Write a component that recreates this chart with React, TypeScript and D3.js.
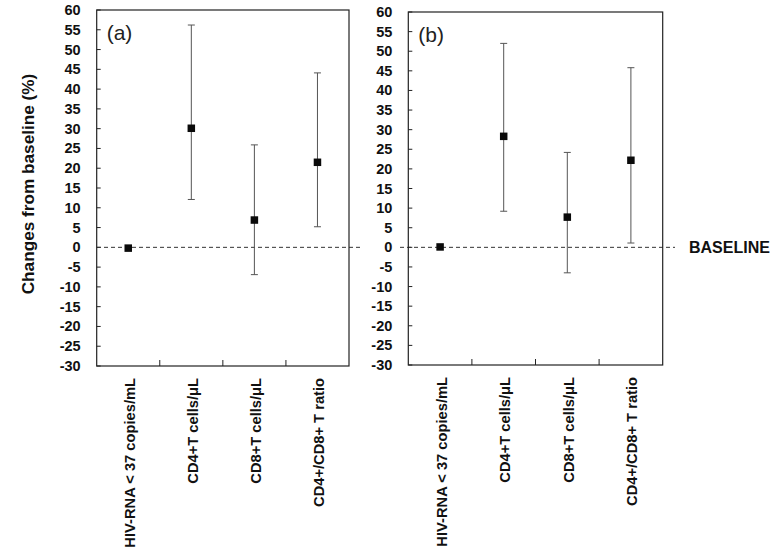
import React from "react";
import * as d3 from "d3";

const categories = ["HIV-RNA < 37 copies/mL", "CD4+T cells/\u03bcL", "CD8+T cells/\u03bcL", "CD4+/CD8+ T ratio"];
const yTicks = [60, 55, 50, 45, 40, 35, 30, 25, 20, 15, 10, 5, 0, -5, -10, -15, -20, -25, -30];

const meanA = [-0.2, 30.1, 6.9, 21.5];
const lowA: (number | null)[] = [null, 12.1, -6.9, 5.2];
const highA: (number | null)[] = [null, 56.2, 25.9, 44.1];

const meanB = [0.1, 28.3, 7.7, 22.2];
const lowB: (number | null)[] = [null, 9.2, -6.5, 1.1];
const highB: (number | null)[] = [null, 52.0, 24.2, 45.8];

const FONT = "'Liberation Sans', Arial, sans-serif";

type PanelProps = {
  label: string;
  left: number;
  right: number;
  top: number;
  bottom: number;
  mean: number[];
  low: (number | null)[];
  high: (number | null)[];
  dashFrom: number;
  dashTo: number;
};

function Panel({ label, left, right, top, bottom, mean, low, high, dashFrom, dashTo }: PanelProps) {
  const y = d3.scaleLinear().domain([-30, 60]).range([bottom, top]);
  const x = d3.scaleBand().domain(categories).range([left, right]).padding(0);
  const bw = x.bandwidth();
  const cap = 3.5;
  const ms = 7.5;
  return (
    <g>
      {/* y tick labels */}
      {yTicks.map((t) => (
        <text
          key={"yl" + t}
          x={left - 16}
          y={y(t)}
          textAnchor="end"
          dominantBaseline="central"
          fontFamily={FONT}
          fontWeight="bold"
          fontSize={14.5}
          fill="#111"
        >
          {t}
        </text>
      ))}
      {/* y ticks inside */}
      {yTicks.map((t) => (
        <line key={"yt" + t} x1={left} x2={left + 4} y1={y(t)} y2={y(t)} stroke="#222" strokeWidth={1} />
      ))}
      {/* x ticks at category boundaries */}
      {categories.slice(1).map((c) => (
        <line key={"xt" + c} x1={x(c)!} x2={x(c)!} y1={bottom} y2={bottom - 6} stroke="#222" strokeWidth={1} />
      ))}
      {/* baseline dashed */}
      <line x1={dashFrom} x2={dashTo} y1={y(0)} y2={y(0)} stroke="#333" strokeWidth={1} strokeDasharray="4,3" />
      {/* error bars */}
      {categories.map((c, i) => {
        const cx = x(c)! + bw / 2;
        const lo = low[i];
        const hi = high[i];
        if (lo === null || hi === null) return null;
        return (
          <g key={"eb" + c} stroke="#555" strokeWidth={1}>
            <line x1={cx} x2={cx} y1={y(lo)} y2={y(hi)} />
            <line x1={cx - cap} x2={cx + cap} y1={y(lo)} y2={y(lo)} />
            <line x1={cx - cap} x2={cx + cap} y1={y(hi)} y2={y(hi)} />
          </g>
        );
      })}
      {/* markers */}
      {categories.map((c, i) => {
        const cx = x(c)! + bw / 2;
        return <rect key={"m" + c} x={cx - ms / 2} y={y(mean[i]) - ms / 2} width={ms} height={ms} fill="#0a0a0a" />;
      })}
      {/* frame */}
      <rect x={left} y={top} width={right - left} height={bottom - top} fill="none" stroke="#222" strokeWidth={1.2} />
      {/* panel label */}
      <text x={left + 10} y={top + 30} fontFamily={FONT} fontSize={21} fill="#222">
        {label}
      </text>
      {/* x category labels */}
      {categories.map((c) => {
        const cx = x(c)! + bw / 2 + 1.5;
        return (
          <text
            key={"xl" + c}
            transform={`translate(${cx},${bottom + 12}) rotate(-90)`}
            textAnchor="end"
            dominantBaseline="central"
            fontFamily={FONT}
            fontWeight="bold"
            fontSize={14.7}
            fill="#111"
          >
            {c}
          </text>
        );
      })}
    </g>
  );
}

export default function App() {
  return (
    <svg
      width={778}
      height={560}
      style={{ position: "absolute", left: 0, top: 0, background: "#fff" }}
    >
      <rect x={0} y={0} width={778} height={560} fill="#fff" />
      <text
        transform="translate(28,184) rotate(-90)"
        textAnchor="middle"
        dominantBaseline="central"
        fontFamily={FONT}
        fontWeight="bold"
        fontSize={17.2}
        fill="#111"
      >
        Changes from baseline (%)
      </text>
      <Panel
        label="(a)"
        left={96.7}
        right={349}
        top={10}
        bottom={366}
        mean={meanA}
        low={lowA}
        high={highA}
        dashFrom={97}
        dashTo={363}
      />
      <Panel
        label="(b)"
        left={408.3}
        right={662.7}
        top={12}
        bottom={365}
        mean={meanB}
        low={lowB}
        high={highB}
        dashFrom={400}
        dashTo={675}
      />
      <text
        x={689}
        y={247.5}
        dominantBaseline="central"
        fontFamily={FONT}
        fontWeight="bold"
        fontSize={16}
        fill="#111"
      >
        BASELINE
      </text>
    </svg>
  );
}
